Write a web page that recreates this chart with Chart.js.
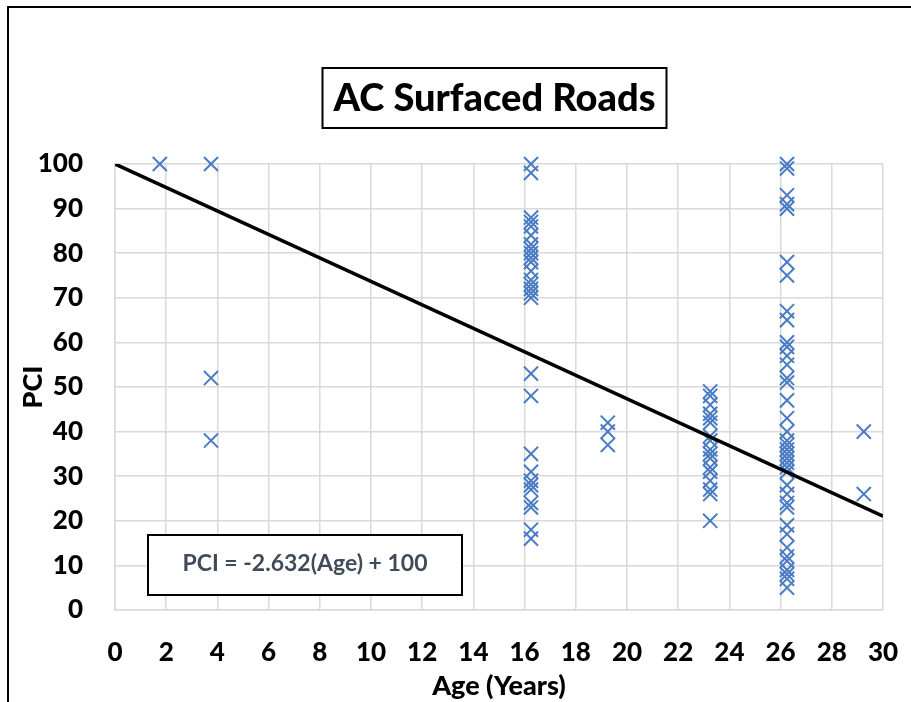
<!DOCTYPE html>
<html>
<head>
<meta charset="utf-8">
<script src="https://cdn.jsdelivr.net/npm/chart.js@4.4.1/dist/chart.umd.min.js"></script>
<style>
  html, body { margin:0; padding:0; background:#fff; overflow:hidden; }
  #frame { position:absolute; left:7px; top:6px; width:960px; height:760px; border-top:2px solid #000; border-left:2px solid #000; }
  #wrap { position:absolute; left:0; top:0; width:911px; height:702px; }
</style>
</head>
<body>
<div id="frame"></div>
<div id="wrap"><canvas id="pciChart"></canvas></div>
<script>
let titleText = "AC Surfaced Roads";
let equationText = "PCI = -2.632(Age) + 100";

// ages (years) of each group of sections
let ageGroups = [1.75, 3.75, 16.25, 19.25, 23.25, 26.25, 29.25];
// PCI readings for each age group
let pciAge2 = [100];
let pciAge4 = [100, 52, 38];
let pciAge16 = [100, 98, 88, 87, 86, 84, 82, 81, 80, 79, 78, 76, 74, 73, 72, 71, 70,
                53, 48, 35, 31, 29, 28, 27, 24, 23, 18, 16];
let pciAge19 = [42, 40, 37];
let pciAge23 = [49, 48, 46, 44, 43, 42, 39, 38, 36, 35, 34, 32, 31, 29, 27, 26, 20];
let pciAge26 = [100, 99, 93, 91, 90, 78, 75, 67, 65, 60, 59, 57, 55, 52, 51, 47, 43, 40,
                38, 37, 36, 35, 34, 33, 32, 31, 28, 26, 24, 23, 19, 17, 14, 12, 11, 9, 8, 7, 5];
let pciAge29 = [40, 26];
let pciGroups = [pciAge2, pciAge4, pciAge16, pciAge19, pciAge23, pciAge26, pciAge29];

// trend line end points
let trendAge = [0, 30];
let trendPCI = [100, 21.04];

let points = [];
ageGroups.forEach((age, i) => {
    pciGroups[i].forEach(v => points.push({x: age, y: v}));
});
let trend = trendAge.map((a, i) => ({x: a, y: trendPCI[i]}));

let fontName = "Lato, 'Liberation Sans', sans-serif";

// title box and equation box
let boxPlugin = {
    id: "boxes",
    afterDraw(chart) {
        let ctx = chart.ctx;
        let area = chart.chartArea;
        ctx.save();
        ctx.font = "900 38px " + fontName;
        let tw = ctx.measureText(titleText).width;
        let cx = (area.left + area.right) / 2 - 4.5;
        ctx.fillStyle = "#fff";
        ctx.strokeStyle = "#000";
        ctx.lineWidth = 2;
        ctx.fillRect(cx - tw/2 - 11, 68, tw + 22, 60);
        ctx.strokeRect(cx - tw/2 - 11, 68, tw + 22, 60);
        ctx.fillStyle = "#000";
        ctx.textAlign = "center";
        ctx.textBaseline = "middle";
        ctx.fillText(titleText, cx, 99);

        let bx = area.left + 33, by = area.bottom - 75;
        ctx.fillStyle = "#fff";
        ctx.fillRect(bx, by, 314, 60);
        ctx.strokeRect(bx, by, 314, 60);
        ctx.font = "bold 23px " + fontName;
        ctx.fillStyle = "#404b5a";
        ctx.fillText(equationText, bx + 157, by + 29);
        ctx.restore();
    }
};

let ctx = document.getElementById("pciChart").getContext("2d");
let pciChart = new Chart(ctx, {
    type: "scatter",
    data: {
        datasets: [{
            type: "line",
            data: trend,
            borderColor: "#000",
            borderWidth: 3.5,
            pointRadius: 0,
            fill: false
        }, {
            data: points,
            pointStyle: "crossRot",
            pointRadius: 10,
            borderColor: "#4a7cc4",
            borderWidth: 2,
            clip: false
        }]
    },
    options: {
        responsive: true,
        maintainAspectRatio: false,
        animation: false,
        layout: { autoPadding: false, padding: { top: 164, right: 28, left: 0, bottom: 0 } },
        plugins: {
            legend: { display: false },
            tooltip: { enabled: false }
        },
        scales: {
            x: {
                type: "linear", min: 0, max: 30,
                ticks: { stepSize: 2, color: "#000", padding: 27, font: { family: fontName, size: 26, weight: "900" } },
                grid: { color: "#d9d9d9", lineWidth: 1.5, drawTicks: false },
                border: { color: "#d9d9d9", width: 1.5 },
                title: { display: true, text: "Age (Years)", color: "#000", padding: { top: 6, bottom: 0 },
                         font: { family: fontName, size: 27, weight: "900" } },
                afterFit: s => { s.height = 92; s.paddingLeft = 0; s.paddingRight = 0; }
            },
            y: {
                min: 0, max: 100,
                ticks: { stepSize: 10, color: "#000", padding: 32, font: { family: fontName, size: 26, weight: "900" } },
                grid: { color: "#d9d9d9", lineWidth: 1.5, drawTicks: false },
                border: { color: "#d9d9d9", width: 1.5 },
                title: { display: true, text: "PCI", color: "#000", padding: { top: 17, bottom: 0 },
                         font: { family: fontName, size: 27, weight: "900" } },
                afterFit: s => { s.width = 115; }
            }
        }
    },
    plugins: [boxPlugin]
});
</script>
</body>
</html>
